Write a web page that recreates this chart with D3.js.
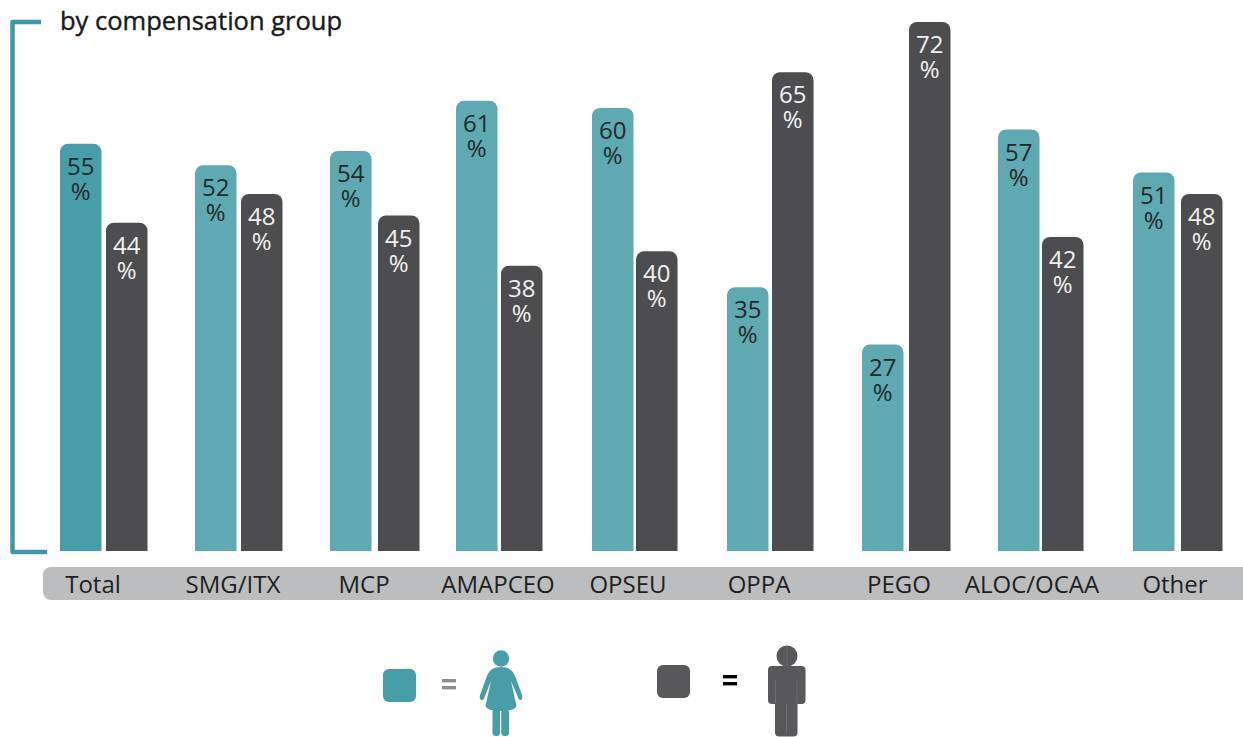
<!DOCTYPE html>
<html>
<head>
<meta charset="utf-8">
<script src="https://cdn.jsdelivr.net/npm/d3@7/dist/d3.min.js"></script>
<style>
html,body{margin:0;padding:0;background:#fff}
svg{display:block}
text{font-family:"Open Sans","Noto Sans",sans-serif}
</style>
</head>
<body>
<svg id="chart" width="1243" height="737"></svg>
<script>
// Share of employees by compensation group, women and men
const categories = ["Total","SMG/ITX","MCP","AMAPCEO","OPSEU","OPPA","PEGO","ALOC/OCAA","Other"];
const women = [55,52,54,61,60,35,27,57,51];
const men = [44,48,45,38,40,65,72,42,48];

const title = "by compensation group";

// Hand-set layout of the groups, which are not evenly spaced
const womenLeft = [60,195,330,456,592,727,862,998,1133];
const menLeft = [106,241,378,501,636,772,909,1042,1181];
const labelCentre = [93,233,364,498,628,759,899,1032,1175];

const TEAL = "#5ea9b2", TEAL_DARK = "#479ea9", GREY = "#4d4d4f", BAND = "#bcbdbf", BRACKET = "#3f98a5";
const baseline = 551, barWidth = 41.5, radius = 8;

const svg = d3.select("#chart");
const y = d3.scaleLinear().domain([0,72]).range([538,22]);
const xWomen = d3.scaleOrdinal().domain(categories).range(womenLeft);
const xMen = d3.scaleOrdinal().domain(categories).range(menLeft);
const xLabel = d3.scaleOrdinal().domain(categories).range(labelCentre);

// Bar with rounded top corners and a flat foot on the baseline
function barPath(x, top, w) {
  const p = d3.path();
  p.moveTo(x, baseline);
  p.lineTo(x, top + radius);
  p.arcTo(x, top, x + radius, top, radius);
  p.lineTo(x + w - radius, top);
  p.arcTo(x + w, top, x + w, top + radius, radius);
  p.lineTo(x + w, baseline);
  p.closePath();
  return p.toString();
}

// Bracket at the left of the plot
svg.append("path")
  .attr("d", "M41,22 H12.5 V552 H47")
  .attr("fill","none").attr("stroke",BRACKET).attr("stroke-width",4.5).attr("stroke-linejoin","round");

svg.append("text").attr("x",60).attr("y",30)
  .attr("font-size",25.5).attr("fill","#1a1a1a")
  .attr("stroke","#1a1a1a").attr("stroke-width",0.4).text(title);

// Category band
svg.append("rect").attr("x",43).attr("y",567).attr("width",1220).attr("height",33).attr("rx",8).attr("fill",BAND);
svg.append("g").selectAll("text").data(categories).join("text")
  .attr("x",d=>xLabel(d)).attr("y",593)
  .attr("text-anchor","middle").attr("font-size",24).attr("fill","#1f1f1f").text(d=>d);

function drawSeries(values, xScale, fill, labelFill) {
  const rows = categories.map((c,i)=>({c, v:values[i]}));
  const g = svg.append("g");
  g.selectAll("path").data(rows).join("path")
    .attr("d", d=>barPath(xScale(d.c), y(d.v), barWidth))
    .attr("fill", typeof fill === "function" ? d=>fill(d) : fill);
  const t = g.selectAll("text").data(rows).join("text")
    .attr("text-anchor","middle").attr("font-size",24).attr("fill",labelFill);
  t.append("tspan").attr("x",d=>xScale(d.c)+barWidth/2).attr("y",d=>y(d.v)+31).text(d=>d.v);
  t.append("tspan").attr("x",d=>xScale(d.c)+barWidth/2).attr("y",d=>y(d.v)+56).text("%");
}
drawSeries(women, xWomen, d=>d.c==="Total"?TEAL_DARK:TEAL, "#1f2a2c");
drawSeries(men, xMen, GREY, "#f1f1f1");

// Key: swatch, equals sign and figure for each series
const key = svg.append("g");
key.append("rect").attr("x",383).attr("y",669).attr("width",33).attr("height",33).attr("rx",6).attr("fill",TEAL_DARK);
key.append("rect").attr("x",657).attr("y",665).attr("width",33).attr("height",33).attr("rx",6).attr("fill","#58585a");
[[442,679,"#8f8f8f"],[442,686,"#8f8f8f"],[723,675,"#000"],[723,682,"#000"]].forEach(([x,yy,c])=>{
  key.append("rect").attr("x",x).attr("y",yy).attr("width",14).attr("height",3.4).attr("fill",c);
});

// Woman
const w = key.append("g").attr("fill",TEAL_DARK);
w.append("circle").attr("cx",501).attr("cy",658.5).attr("r",8.2);
w.append("path").attr("d","M501,667 C492,667 489,671 487,676 L480,695 Q479,700 482,700 Q484,700 485,696 L491,681 L485.5,706 Q487,711 501,711 Q515,711 516.5,706 L511,681 L517.5,696 Q518.5,700 520.5,700 Q523,700 522,695 L515,676 C513,671 510,667 501,667 Z");
w.append("rect").attr("x",492.5).attr("y",709).attr("width",7.5).attr("height",27).attr("rx",3.5);
w.append("rect").attr("x",501.2).attr("y",709).attr("width",7.8).attr("height",27).attr("rx",3.5);

// Man, with the faint seams between his parts
const m = key.append("g").attr("fill","#58585a");
m.append("circle").attr("cx",787).attr("cy",656).attr("r",10.5);
m.append("rect").attr("x",768).attr("y",666).attr("width",37.5).attr("height",38).attr("rx",4);
m.append("rect").attr("x",775).attr("y",700).attr("width",22.5).attr("height",36.5).attr("rx",4);
m.append("path").attr("d","M787,646 V666 M786.5,704 V733 M775.5,680 V703 M797,680 V703")
  .attr("fill","none").attr("stroke","#77777a").attr("stroke-width",0.7);
</script>
</body>
</html>
